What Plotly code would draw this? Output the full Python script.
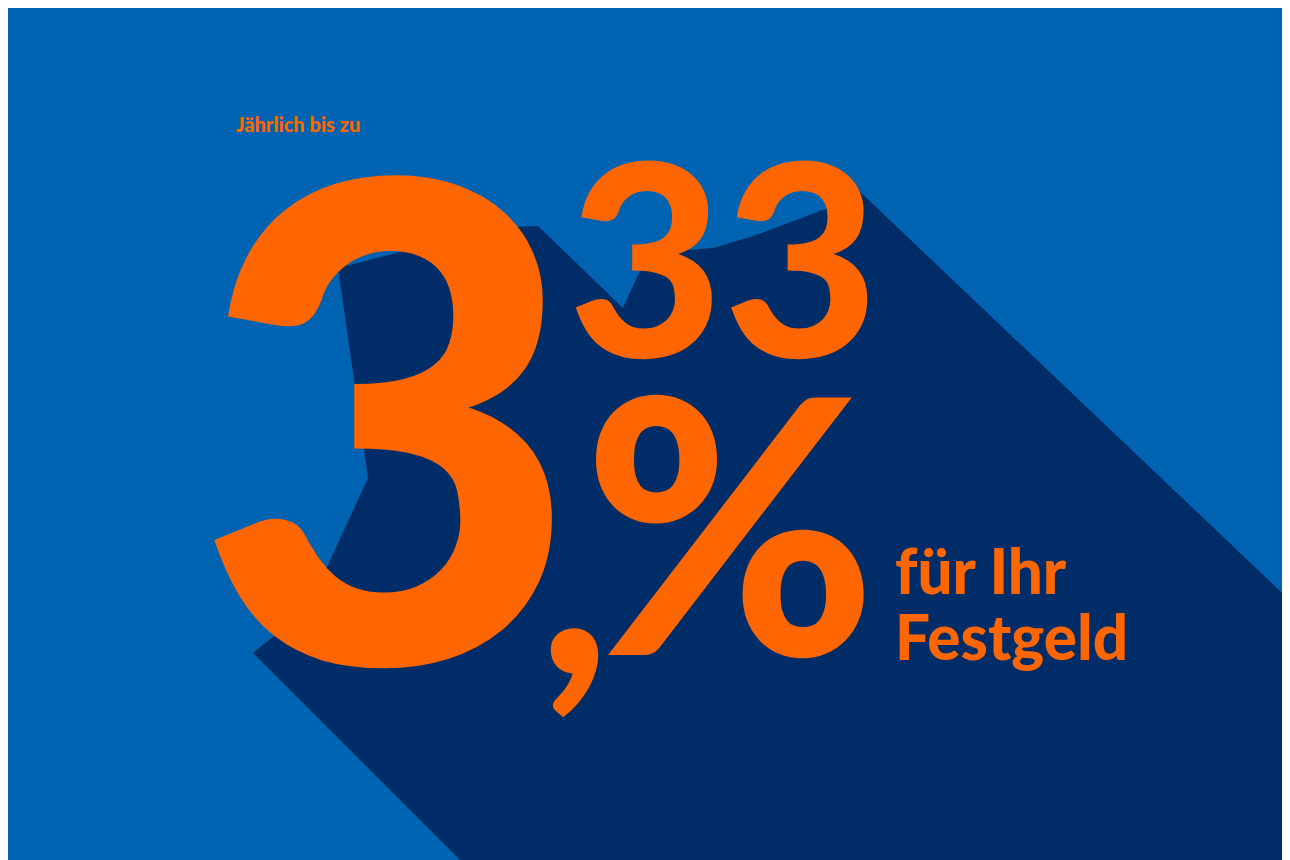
import plotly.graph_objects as go

# Farben
blau = "#0063b1"
dunkel = "#002d67"
orange = "#ff6600"

# Schattenfläche (Bildpunkte, y nach unten)
schatten_x = [530, 615, 640, 705, 745, 820, 848, 1290, 1290, 460, 245, 300, 360, 330, 485]
schatten_y = [218, 300, 245, 240, 228, 200, 180, 600, 860, 860, 645, 600, 470, 260, 220]

# Texte
texte = ["Jährlich bis zu", "3", "33", ",", "%", "für Ihr", "Festgeld"]
text_x = [226, 380, 715, 566, 722, 885, 885]
text_y = [116, 398, 245, 550, 510, 562, 628]
groessen = [20, 665, 268, 300, 355, 62, 62]
anker = ["left", "center", "center", "center", "center", "left", "left"]

fig = go.Figure()
fig.add_trace(go.Scatter(x=schatten_x, y=schatten_y, fill="toself", fillcolor=dunkel,
                         mode="lines", line=dict(width=0), hoverinfo="skip"))

for t, x, y, s, a in zip(texte, text_x, text_y, groessen, anker):
    fig.add_annotation(x=x, y=y, text=t, showarrow=False, xanchor=a, yanchor="middle",
                       font=dict(family="Lato", size=s, color=orange, weight=900))

fig.update_layout(
    width=1290, height=860,
    margin=dict(l=0, r=0, t=0, b=0),
    paper_bgcolor=blau, plot_bgcolor=blau,
    showlegend=False,
    xaxis=dict(range=[0, 1290], visible=False, fixedrange=True),
    yaxis=dict(range=[860, 0], visible=False, fixedrange=True),
)
fig.write_html("out.html")
